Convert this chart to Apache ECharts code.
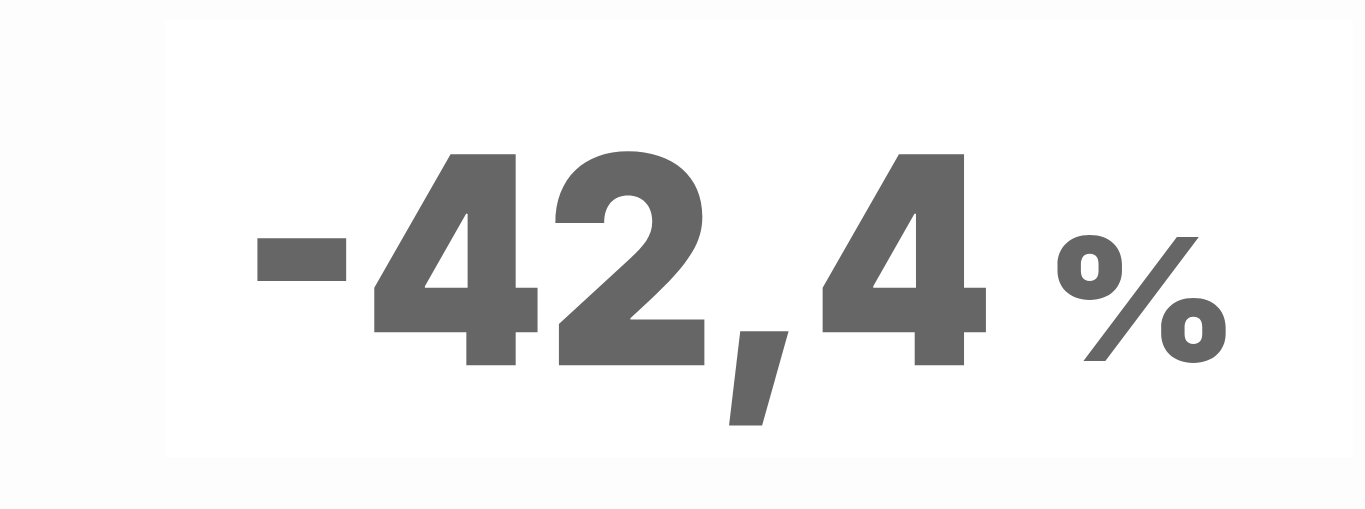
<!DOCTYPE html>
<html>
<head>
    <meta charset="utf-8">
    <title>KPI</title>
    <script src="https://cdn.jsdelivr.net/npm/echarts@6/dist/echarts.min.js"></script>
    <style>
        html, body { margin: 0; padding: 0; background: #fdfdfd; }
        #container { width: 1365px; height: 509px; }
    </style>
</head>
<body>
    <div id="container"></div>
    <script type="text/javascript">
        // 数据
        var values = [-42.4];
        var units = ['%'];

        function fmt(v) {
            return v.toFixed(1).replace('.', ',');
        }

        var chart = echarts.init(document.getElementById('container'));
        chart.setOption({
            backgroundColor: '#fdfdfd',
            graphic: [
                {
                    type: 'rect',
                    shape: { x: 165, y: 20, width: 1188, height: 437 },
                    style: { fill: '#ffffff' },
                    silent: true
                },
                {
                    // 主数值
                    type: 'text',
                    x: 240,
                    y: 133,
                    scaleX: 0.898,
                    style: {
                        text: fmt(values[0]),
                        align: 'left',
                        verticalAlign: 'top',
                        fontFamily: 'Inter', fontWeight: 900, fontSize: 290, fill: '#666666'
                    }
                },
                {
                    // 单位
                    type: 'text',
                    x: 1044,
                    y: 225,
                    scaleX: 1.1,
                    style: {
                        text: units[0],
                        align: 'left',
                        verticalAlign: 'top',
                        fontFamily: 'Inter', fontWeight: 900, fontSize: 170, fill: '#666666'
                    }
                }
            ]
        });
    </script>
</body>
</html>
